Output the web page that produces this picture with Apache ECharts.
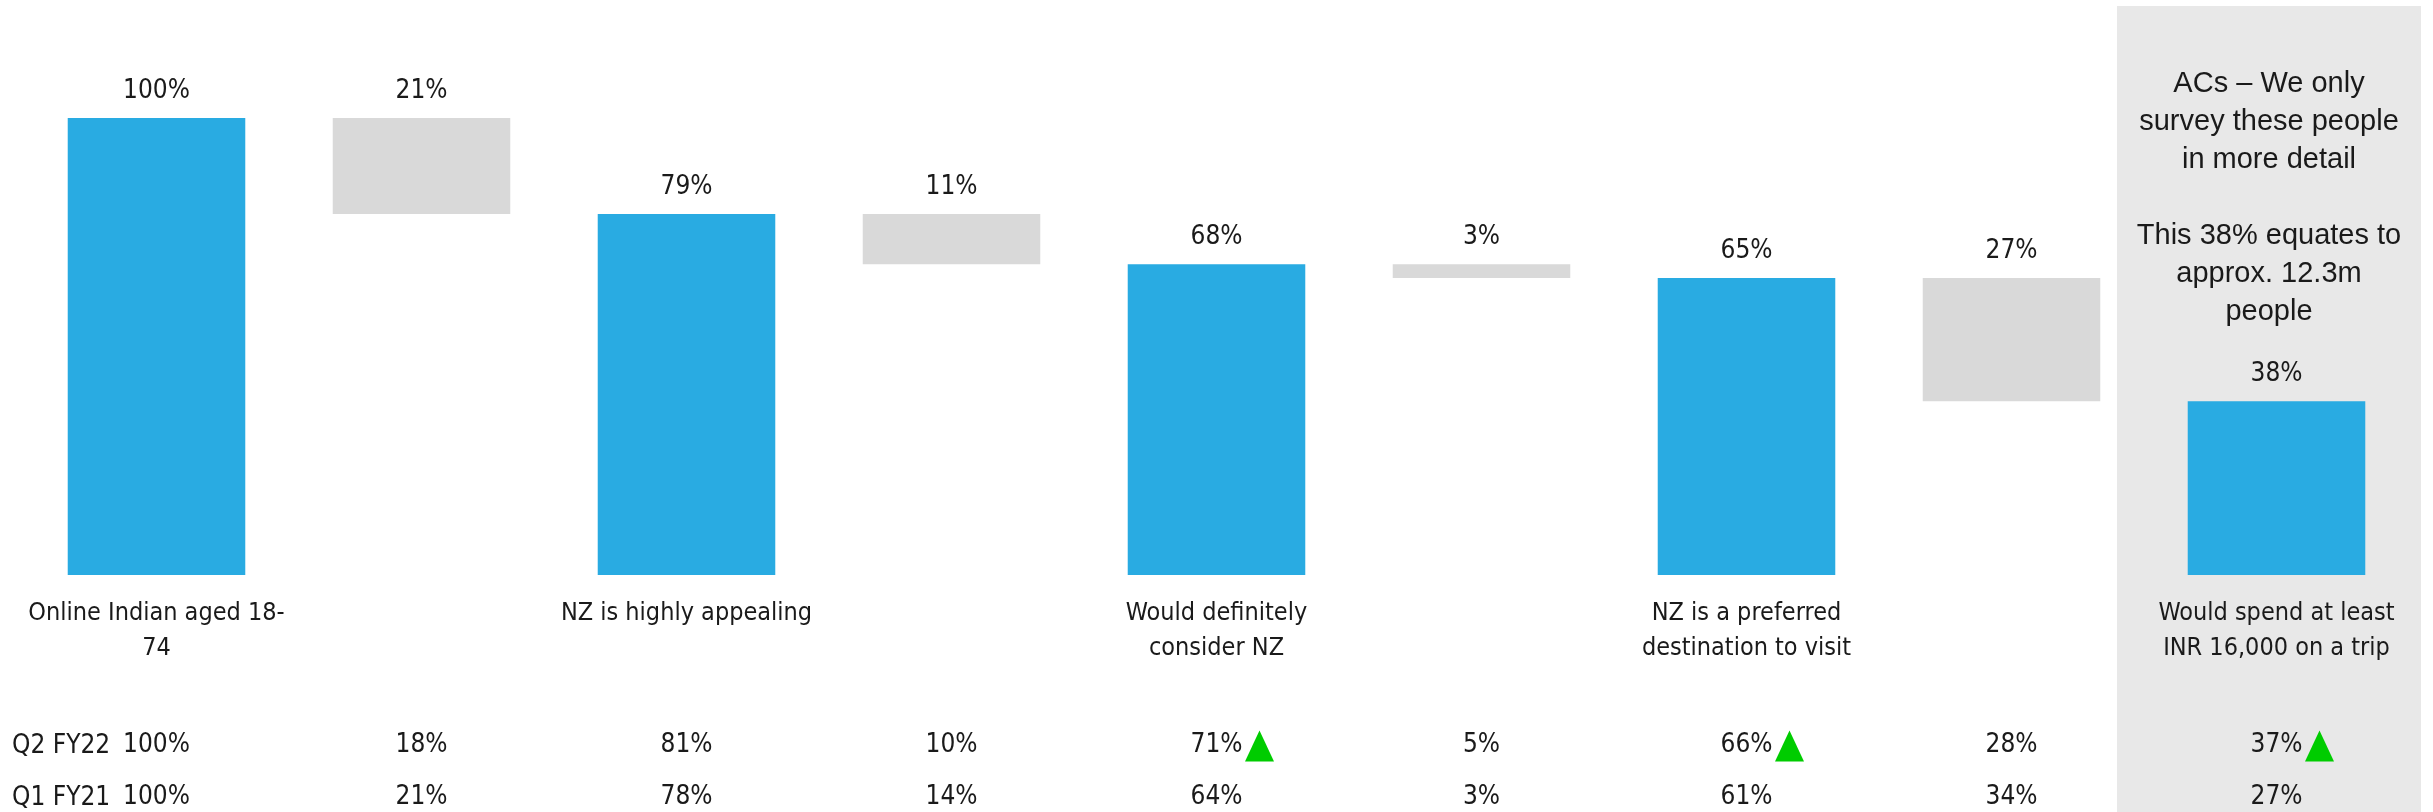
<!DOCTYPE html>
<html>
<head>
<meta charset="utf-8">
<script src="https://cdn.jsdelivr.net/npm/echarts@6/dist/echarts.min.js"></script>
<style>
  html, body { margin: 0; padding: 0; background: #fff; }
  #chart { width: 2433px; height: 812px; }
</style>
</head>
<body>
<div id="chart"></div>
<script>
// funnel stages and the drop between each pair
const stageNames = [
  'Online Indian aged 18-\n74',
  'NZ is highly appealing',
  'Would definitely\nconsider NZ',
  'NZ is a preferred\ndestination to visit',
  'Would spend at least\nINR 16,000 on a trip'
]
const stageValues = [100, 79, 68, 65, 38]
const dropValues = [21, 11, 3, 27]

// comparison table under the chart
const rowNames = ['Q2 FY22', 'Q1 FY21']
const q2Values = [100, 18, 81, 10, 71, 5, 66, 28, 37]
const q1Values = [100, 21, 78, 14, 64, 3, 61, 34, 27]
const q2Up = [0, 0, 0, 0, 1, 0, 1, 0, 1]

const noteText = 'ACs \u2013 We only\nsurvey these people\nin more detail\n\nThis 38% equates to\napprox. 12.3m\npeople'

const BLUE = '#29abe2'
const GREY = '#d9d9d9'
const TEXT = '#1a1a1a'
const FONT = "'Liberation Sans Narrow', 'DejaVu Sans Condensed', sans-serif"

// build the waterfall columns: stage, drop, stage, drop ...
const colLabels = []
const baseData = []
const blueData = []
const greyData = []
stageValues.forEach((v, i) => {
  colLabels.push(stageNames[i])
  baseData.push(0)
  blueData.push(v)
  greyData.push('-')
  if (i < dropValues.length) {
    colLabels.push('')
    baseData.push(stageValues[i + 1])
    blueData.push('-')
    greyData.push(dropValues[i])
  }
})
const cats = colLabels.map((_, i) => 'c' + i)

const upData = q2Up.map((u, i) => (u ? [i, 0.5] : null)).filter(Boolean)

const chart = echarts.init(document.getElementById('chart'))

const valueLabel = {
  show: true,
  position: 'top',
  distance: 14,
  color: TEXT,
  fontFamily: FONT,
  fontSize: 26,
  lineHeight: 26,
  formatter: p => p.value + '%'
}

function rowAxis(values, offset) {
  return {
    type: 'category',
    data: cats,
    position: 'bottom',
    offset: offset,
    axisLine: { show: false },
    axisTick: { show: false },
    axisLabel: {
      interval: 0,
      margin: 8,
      color: TEXT,
      fontFamily: FONT,
      fontSize: 26,
      lineHeight: 30,
      formatter: (v, i) => values[i] + '%'
    }
  }
}

chart.setOption({
  animation: false,
  grid: [
    { left: 24, right: 24, top: 118, bottom: 236 },
    { left: 24, right: 24, top: 730, height: 32 }
  ],
  xAxis: [
    {
      type: 'category',
      data: cats,
      axisLine: { show: false },
      axisTick: { show: false },
      axisLabel: {
        interval: 0,
        margin: 21,
        color: TEXT,
        fontFamily: FONT,
        fontSize: 25,
        lineHeight: 35,
        formatter: (v, i) => colLabels[i]
      }
    },
    rowAxis(q2Values, 147),
    rowAxis(q1Values, 199),
    { type: 'category', data: cats, gridIndex: 1, show: false }
  ],
  yAxis: [
    { type: 'value', min: 0, max: 100, show: false },
    { type: 'value', min: 0, max: 1, gridIndex: 1, show: false }
  ],
  graphic: [
    {
      type: 'rect',
      z: -10,
      shape: { x: 2117, y: 6, width: 304, height: 806 },
      style: { fill: '#e8e8e8' }
    },
    {
      type: 'text',
      x: 2269,
      y: 65,
      style: {
        text: noteText,
        textAlign: 'center',
        textVerticalAlign: 'top',
        fill: TEXT,
        font: "29px 'Liberation Sans', sans-serif",
        lineHeight: 38
      }
    },
    ...rowNames.map((name, i) => ({
      type: 'text',
      x: 12,
      y: i === 0 ? 746 : 798,
      style: {
        text: name,
        textAlign: 'left',
        textVerticalAlign: 'middle',
        fill: TEXT,
        font: "26px 'Liberation Sans Narrow', 'DejaVu Sans Condensed', sans-serif"
      }
    }))
  ],
  series: [
    {
      name: 'base',
      type: 'bar',
      stack: 'wf',
      data: baseData,
      barCategoryGap: '33%',
      itemStyle: { color: 'transparent' },
      silent: true
    },
    {
      name: 'stage',
      type: 'bar',
      stack: 'wf',
      data: blueData,
      itemStyle: { color: BLUE },
      label: valueLabel
    },
    {
      name: 'drop',
      type: 'bar',
      stack: 'wf',
      data: greyData,
      itemStyle: { color: GREY },
      label: valueLabel
    },
    {
      name: 'up',
      type: 'scatter',
      xAxisIndex: 3,
      yAxisIndex: 1,
      data: upData,
      symbol: 'triangle',
      symbolSize: [29, 31],
      symbolOffset: [43, 0],
      itemStyle: { color: '#00cc00', opacity: 1 }
    }
  ]
})
</script>
</body>
</html>
